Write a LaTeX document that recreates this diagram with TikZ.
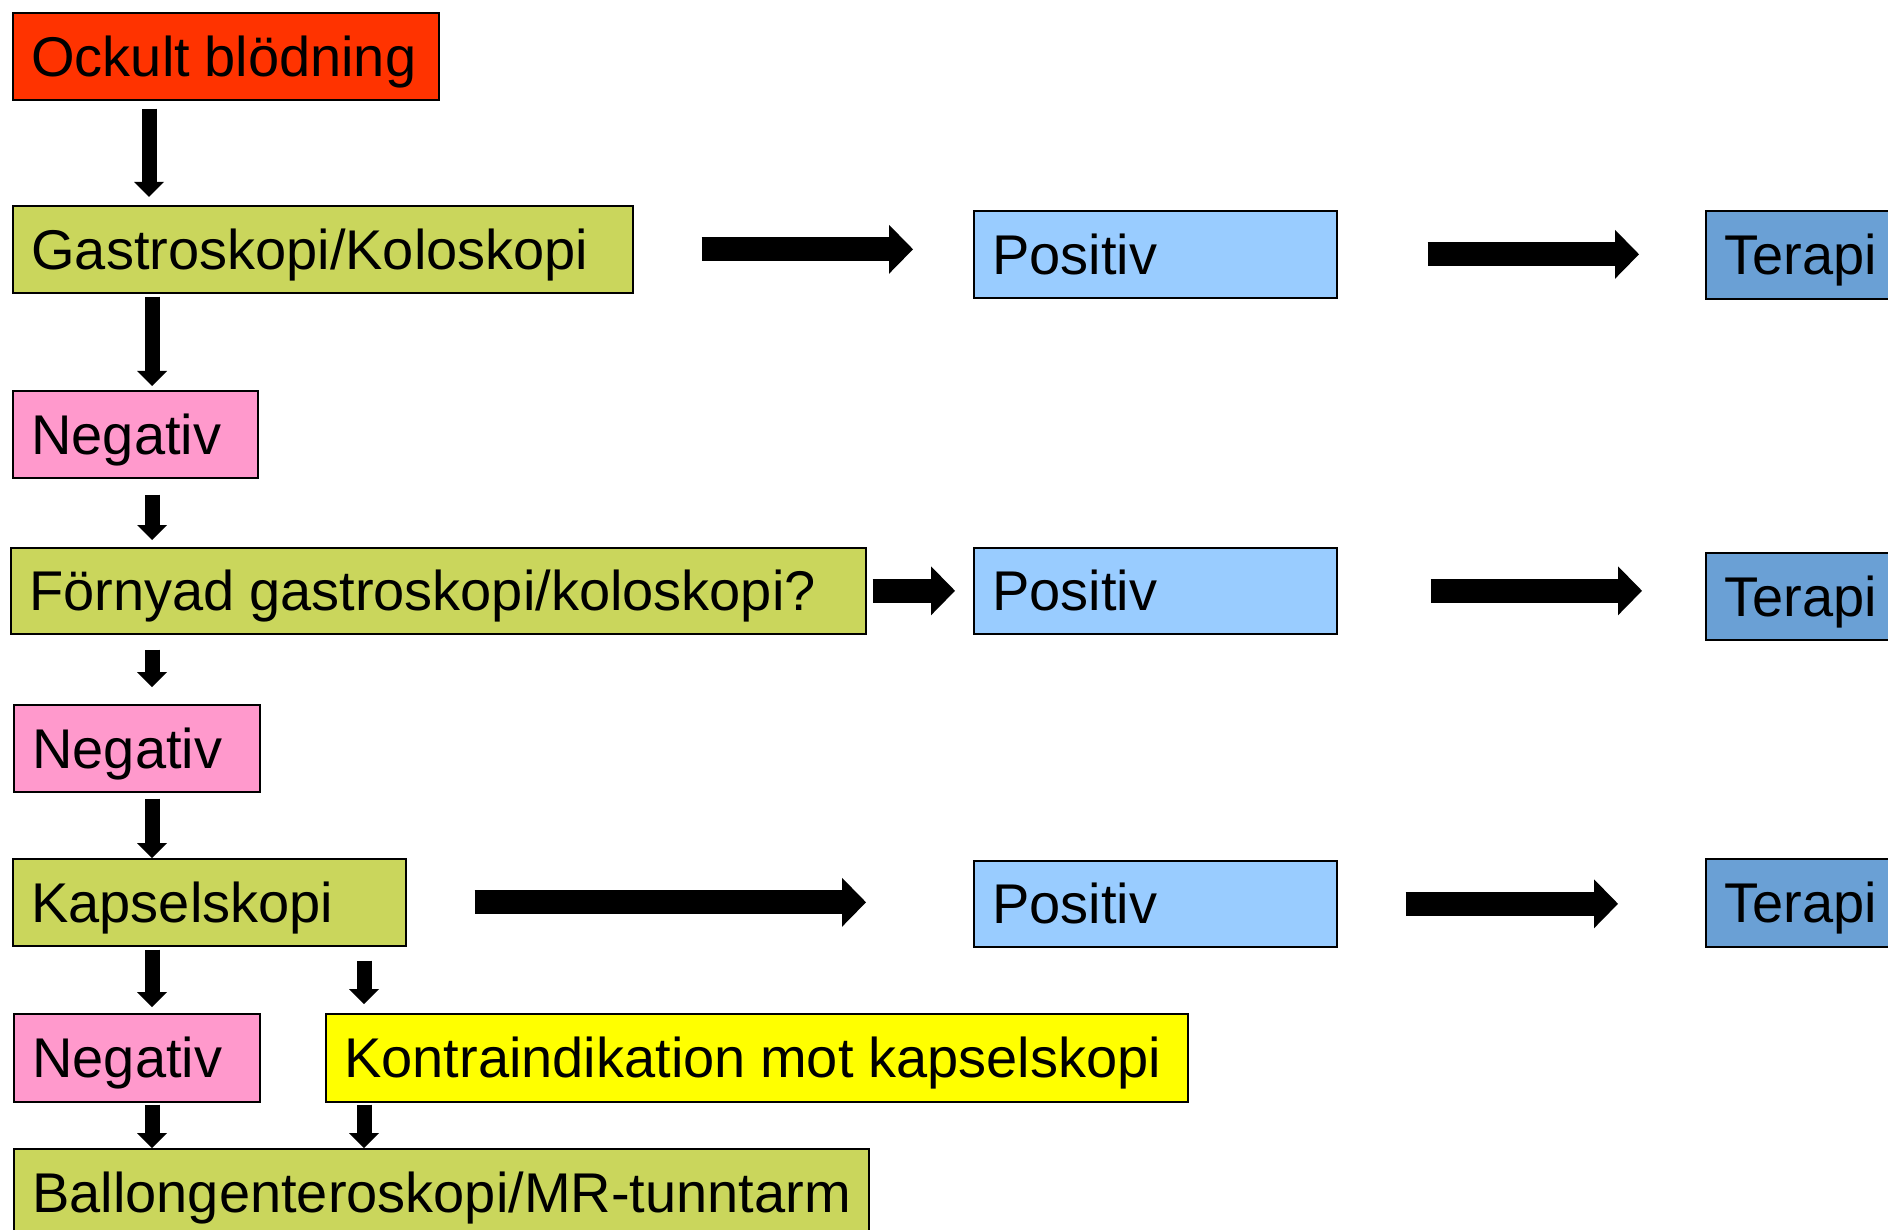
\documentclass[tikz,border=0pt]{standalone}
\usepackage{fontspec}
\setmainfont{Liberation Sans}
\usetikzlibrary{arrows.meta,calc}
\definecolor{cRed}{RGB}{255,51,0}
\definecolor{cGreen}{RGB}{202,214,92}
\definecolor{cPink}{RGB}{255,153,204}
\definecolor{cLight}{RGB}{153,204,255}
\definecolor{cBlue}{RGB}{106,160,213}
\definecolor{cYellow}{RGB}{255,255,0}
\newcommand\boxtxt[1]{\mbox{\spaceskip=0.26em\relax #1}}
\tikzset{
  box/.style={draw=black, line width=1.6pt, anchor=north west, inner xsep=18.5pt, inner ysep=0pt,
    text height=40.1pt, text depth=0pt, align=left,
    font=\fontsize{56pt}{67pt}\selectfont},
  harr/.style={line width=24pt, -{Triangle[width=49pt,length=24pt,line width=0pt]}},
  varr/.style={line width=15pt, -{Triangle[width=30pt,length=15pt,line width=0pt]}}
}
\begin{document}
\begin{tikzpicture}[x=1pt,y=-1pt]
\useasboundingbox (0,0) rectangle (1888,1230);
\clip (0,0) rectangle (1888,1230);
\fill[white] (0,0) rectangle (1888,1230);
% left column
\node[box, fill=cRed, text width=389pt, minimum height=87pt] (ockult) at (12,12) {\boxtxt{Ockult blödning}};
\node[box, fill=cGreen, text width=583pt, minimum height=87pt] (gastro) at (12,205) {\boxtxt{Gastroskopi/Koloskopi}};
\node[box, fill=cPink, text width=208pt, minimum height=87pt] (neg1) at (12,390) {\boxtxt{Negativ}};
\node[box, fill=cGreen, text width=818pt, minimum height=86pt] (forn) at (10,547) {\boxtxt{Förnyad gastroskopi/koloskopi?}};
\node[box, fill=cPink, text width=209pt, minimum height=87pt] (neg2) at (13,704) {\boxtxt{Negativ}};
\node[box, fill=cGreen, text width=356pt, minimum height=87pt] (kapsel) at (12,858) {\boxtxt{Kapselskopi}};
\node[box, fill=cPink, text width=209pt, minimum height=88pt] (neg3) at (13,1013) {\boxtxt{Negativ}};
\node[box, fill=cYellow, text width=825pt, minimum height=88pt] (kontra) at (325,1013) {\boxtxt{Kontraindikation mot kapselskopi}};
\node[box, fill=cGreen, text width=818pt, minimum height=87pt] (ballong) at (13,1148) {\boxtxt{Ballongenteroskopi/MR-tunntarm}};
% positive column
\node[box, fill=cLight, text width=326pt, minimum height=87pt] (pos1) at (973,210) {\boxtxt{Positiv}};
\node[box, fill=cLight, text width=326pt, minimum height=86pt] (pos2) at (973,547) {\boxtxt{Positiv}};
\node[box, fill=cLight, text width=326pt, minimum height=86pt] (pos3) at (973,860) {\boxtxt{Positiv}};
% therapy column
\node[box, fill=cBlue, text width=213pt, minimum height=88pt] (ter1) at (1705,210) {\boxtxt{Terapi}};
\node[box, fill=cBlue, text width=213pt, minimum height=87pt] (ter2) at (1705,552) {\boxtxt{Terapi}};
\node[box, fill=cBlue, text width=213pt, minimum height=88pt] (ter3) at (1705,858) {\boxtxt{Terapi}};
% vertical arrows
\coordinate (v1) at ($(ockult.south west)+(137,0)$);
\coordinate (v2) at ($(gastro.south west)+(140,0)$);
\coordinate (v3) at ($(neg1.south west)+(140,0)$);
\coordinate (v4) at ($(forn.south west)+(142,0)$);
\coordinate (v5) at ($(neg2.south west)+(139,0)$);
\coordinate (v6) at ($(kapsel.south west)+(140,0)$);
\coordinate (v7) at ($(kapsel.south west)+(352,0)$);
\coordinate (v8) at ($(neg3.south west)+(139,0)$);
\coordinate (v9) at ($(kontra.south west)+(39,0)$);
\draw[varr, shorten <=8pt, shorten >=8pt] (v1) -- (v1 |- gastro.north);
\draw[varr, shorten <=3pt, shorten >=4pt] (v2) -- (v2 |- neg1.north);
\draw[varr, shorten <=16pt, shorten >=7pt] (v3) -- (v3 |- forn.north);
\draw[varr, shorten <=15pt, shorten >=17pt] (v4) -- (v4 |- neg2.north);
\draw[varr, shorten <=6pt] (v5) -- (v5 |- kapsel.north);
\draw[varr, shorten <=3pt, shorten >=6pt] (v6) -- (v6 |- neg3.north);
\draw[varr, shorten <=14pt, shorten >=9pt] (v7) -- (v7 |- kontra.north);
\draw[varr, shorten <=2pt] (v8) -- (v8 |- ballong.north);
\draw[varr, shorten <=2pt] (v9) -- (v9 |- ballong.north);
% horizontal arrows
\draw[harr, shorten <=68pt, shorten >=60pt] (gastro.east) -- (gastro.east -| pos1.west);
\draw[harr, shorten <=90pt, shorten >=66pt] (pos1.east) -- (pos1.east -| ter1.west);
\draw[harr, shorten <=6pt, shorten >=18pt] (forn.east) -- (forn.east -| pos2.west);
\draw[harr, shorten <=93pt, shorten >=63pt] (pos2.east) -- (pos2.east -| ter2.west);
\draw[harr, shorten <=68pt, shorten >=107pt] (kapsel.east) -- (kapsel.east -| pos3.west);
\draw[harr, shorten <=68pt, shorten >=87pt] (pos3.east) -- (pos3.east -| ter3.west);
\end{tikzpicture}
\end{document}
